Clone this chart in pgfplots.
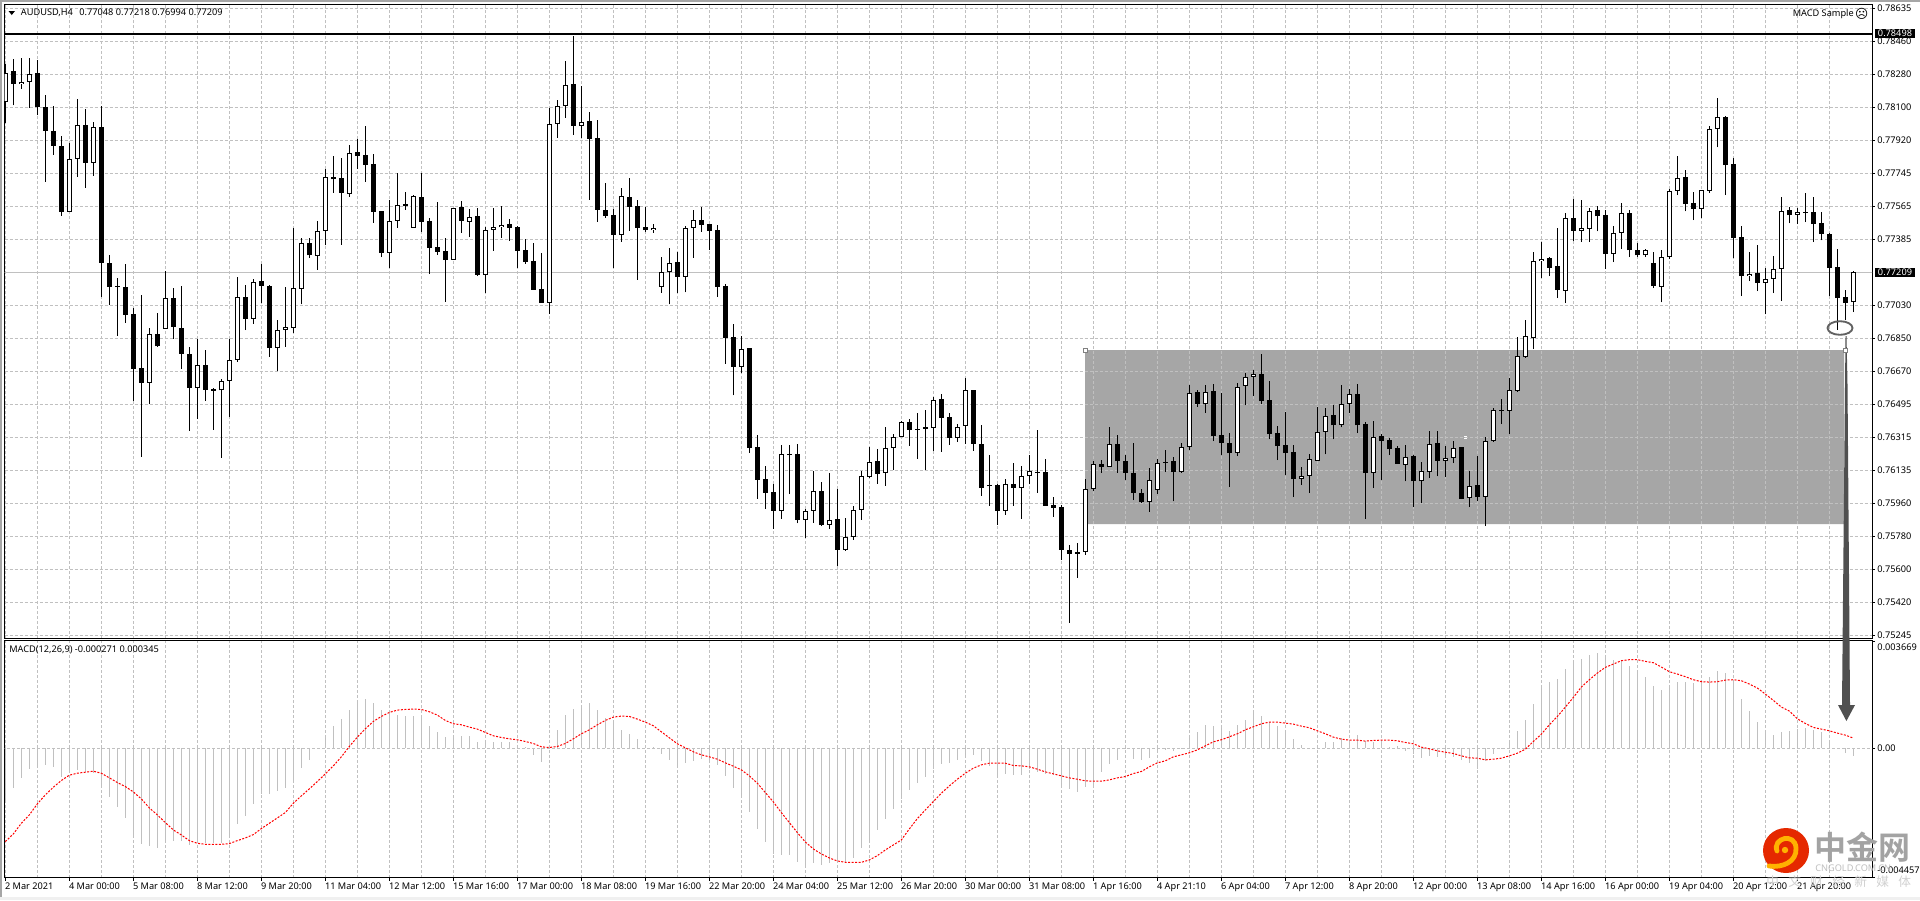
\documentclass[border=0pt]{standalone}
\usepackage{fontspec}
\setmainfont{Noto Sans}
\newfontfamily\cjk{Noto Sans CJK SC}[BoldFont={Noto Sans CJK SC Bold}]
\newfontfamily\dejavu{DejaVu Sans}
\usepackage{pgfplots}
\usepackage{pgfplotstable}
\pgfplotsset{compat=1.18}
\newcommand\lbl{\fontsize{6.9}{8}\selectfont}
\definecolor{gridc}{HTML}{C0C0C0}
\definecolor{boxc}{HTML}{A6A6A6}
\definecolor{annot}{HTML}{505050}
\pgfplotstableread{
x h o c l
0 78334 78129 78287 78017
2 78370 78229 78240 78201
3 78370 78240 78282 78100
8 77910 77537 77824 77537
9 78145 77822 78008 77725
11 78024 77801 77997 77730
18 76910 76613 76878 76496
20 77215 76905 77072 76905
24 76847 76584 76710 76415
27 76631 76570 76624 76206
28 76851 76624 76737 76427
29 77181 76735 77078 76725
31 77175 76957 77159 76930
34 76950 76800 76899 76674
35 77130 76899 76914 76806
36 77447 76910 77126 76881
37 77397 77119 77370 77036
39 77485 77298 77435 77222
40 77766 77433 77727 77355
43 77900 77633 77856 77617
48 77599 77314 77489 77231
49 77745 77487 77575 77449
51 77626 77449 77619 77449
56 77559 77276 77555 77276
58 77550 77483 77510 77399
60 77456 77197 77440 77098
61 77555 77440 77456 77325
62 77566 77456 77467 77395
68 78100 77045 78013 76984
69 78139 78013 78110 77936
70 78350 78110 78224 78044
72 78215 78002 78024 77936
77 77664 77411 77619 77373
81 77469 77438 77451 77422
82 77292 77130 77213 77098
83 77339 77211 77262 77036
85 77462 77184 77451 77101
86 77545 77449 77494 77287
92 76863 76698 76797 76662
97 76274 75919 76224 75876
100 75928 75870 75921 75773
101 76134 75919 76024 75854
103 76123 75843 75872 75822
105 75878 75708 75780 75703
106 75944 75780 75926 75762
107 76137 75924 76105 75870
108 76263 76103 76186 76096
110 76371 76125 76261 76054
111 76337 76261 76321 76139
112 76406 76319 76402 76316
116 76537 76368 76521 76243
119 76388 76314 76375 76292
120 76636 76379 76570 76281
123 76220 76051 76061 75946
125 76090 75919 76067 75897
127 76161 76043 76105 75876
128 76220 76105 76132 76063
134 75744 75687 75697 75557
135 76090 75699 76040 75681
136 76188 76038 76175 76025
138 76371 76157 76278 76157
143 76153 75968 76088 75914
144 76202 76033 76180 76009
147 76288 76128 76267 76124
148 76598 76265 76559 76247
150 76598 76498 76564 76449
154 76613 76233 76591 76215
155 76662 76595 76645 76490
156 76680 76644 76660 76539
162 76155 76092 76108 76058
163 76229 76108 76197 76015
164 76480 76189 76348 76189
165 76474 76346 76434 76225
167 76598 76384 76499 76371
168 76577 76498 76553 76447
171 76404 76124 76321 76042
175 76274 76168 76213 76079
177 76182 76079 76132 75960
178 76350 76130 76283 76096
180 76269 76189 76207 76103
181 76296 76206 76261 76177
183 76134 75989 76056 75939
185 76317 75995 76299 75836
186 76478 76296 76462 76294
188 76636 76460 76570 76334
189 76858 76568 76759 76562
190 76950 76750 76862 76746
191 77318 76854 77272 76793
192 77372 77272 77283 77177
195 77532 77108 77500 77042
197 77599 77433 77446 77372
198 77559 77444 77543 77372
201 77458 77309 77424 77264
202 77582 77422 77527 77334
205 77334 77301 77332 77291
207 77328 77130 77294 77047
208 77662 77291 77651 77280
209 77837 77649 77721 77626
212 77656 77552 77653 77501
213 77999 77649 77986 77637
214 78150 77986 78051 77885
218 77318 77190 77202 77161
220 77231 77152 77175 76982
221 77296 77173 77229 77096
222 77615 77227 77543 77053
224 77555 77521 77534 77469
231 77218 77048 77209 76994
}\upT
\pgfplotstableread{
x h o c l
1 78365 78296 78228 78112
4 78356 78284 78103 78058
5 78165 78105 77974 77698
6 78110 77975 77892 77844
7 77948 77894 77536 77514
10 78091 78008 77801 77665
12 78110 77997 77260 77076
13 77300 77260 77130 77033
14 77177 77134 77130 76865
15 77256 77132 76979 76935
16 77015 76982 76687 76514
17 77085 76689 76611 76211
19 76991 76878 76809 76806
21 77126 77072 76914 76849
22 77134 76910 76768 76685
23 76804 76770 76584 76352
25 76791 76710 76573 76514
26 76586 76577 76568 76357
30 77139 77078 76957 76896
32 77253 77161 77136 77044
33 77139 77137 76800 76752
38 77397 77370 77301 77287
41 77837 77723 77712 77638
42 77826 77718 77638 77357
44 77928 77858 77837 77768
45 77999 77842 77790 77698
46 77851 77793 77536 77476
47 77541 77539 77314 77291
50 77642 77577 77566 77548
52 77748 77615 77482 77426
53 77500 77485 77341 77200
54 77588 77345 77319 77303
55 77393 77323 77276 77049
57 77593 77561 77487 77422
59 77555 77512 77195 77188
63 77496 77469 77449 77379
64 77458 77453 77325 77233
65 77388 77328 77265 77254
66 77366 77269 77114 77114
67 77312 77117 77044 77044
71 78485 78226 78001 77952
73 78074 78026 77930 77602
74 78031 77934 77546 77482
75 77691 77548 77514 77503
76 77550 77518 77411 77231
78 77718 77615 77563 77433
79 77599 77566 77449 77168
80 77563 77453 77437 77427
84 77318 77264 77184 77098
87 77561 77494 77465 77427
88 77471 77469 77433 77330
89 77464 77437 77130 77076
90 77148 77134 76854 76714
91 76928 76858 76698 76544
93 76799 76799 76260 76233
94 76332 76263 76087 75984
95 76161 76090 76016 75930
96 76063 76020 75919 75822
98 76274 76224 76220 76009
99 76278 76229 75869 75851
102 76074 76025 75842 75836
104 76036 75874 75708 75622
109 76256 76188 76119 76065
113 76415 76398 76357 76270
114 76447 76364 76357 76200
115 76463 76370 76362 76139
117 76550 76523 76422 76238
118 76447 76424 76314 76276
121 76571 76571 76281 76243
122 76386 76283 76043 76000
124 76063 76061 75919 75843
126 76180 76067 76043 75946
129 76359 76128 76123 76016
130 76198 76128 75946 75946
131 75993 75950 75935 75887
132 75950 75939 75708 75654
133 75733 75710 75687 75314
137 76195 76175 76157 76124
139 76332 76278 76188 76124
140 76220 76191 76124 76085
141 76288 76126 76016 75977
142 76036 76018 75966 75962
145 76247 76186 76179 76128
146 76209 76191 76128 75971
149 76571 76561 76496 76481
151 76604 76566 76323 76296
152 76555 76328 76285 76220
153 76339 76288 76231 76047
157 76766 76658 76512 76496
158 76624 76517 76334 76306
159 76377 76339 76269 76193
160 76452 76274 76231 76112
161 76274 76236 76090 75993
166 76490 76436 76382 76306
169 76604 76550 76382 76339
170 76398 76388 76123 75874
172 76334 76323 76296 76088
173 76312 76301 76252 76220
174 76269 76258 76175 76173
176 76220 76215 76079 75939
179 76350 76285 76191 76106
182 76263 76263 75986 75982
184 76215 76058 75993 75971
187 76523 76463 76460 76388
193 77291 77285 77233 77188
194 77447 77242 77112 77069
196 77604 77501 77433 77377
199 77566 77545 77512 77431
200 77545 77518 77307 77226
203 77548 77528 77328 77291
204 77366 77328 77301 77291
206 77318 77258 77134 77123
210 77761 77723 77577 77539
211 77642 77582 77550 77491
215 78053 78047 77788 77626
216 77826 77793 77393 77285
217 77458 77399 77188 77080
219 77355 77204 77150 77107
223 77561 77545 77518 77474
225 77637 77534 77530 77480
226 77615 77534 77469 77372
227 77534 77474 77415 77382
228 77420 77415 77231 77080
229 77334 77236 77069 76899
230 77112 77074 77042 76950
}\dnT
\pgfplotstableread{
x m s
0 -1783 -3220
1 -1369 -2956
2 -1024 -2588
3 -713 -2300
4 -575 -1921
5 -575 -1610
6 -633 -1346
7 -978 -1116
8 -863 -932
9 -748 -863
10 -805 -828
11 -840 -794
12 -1323 -863
13 -1668 -1024
14 -2013 -1185
15 -2415 -1323
16 -2990 -1507
17 -3289 -1748
18 -3370 -2059
19 -3427 -2300
20 -3220 -2565
21 -3186 -2818
22 -3186 -2990
23 -3335 -3186
24 -3278 -3278
25 -3278 -3312
26 -3278 -3312
27 -3278 -3312
28 -3105 -3289
29 -2611 -3186
30 -2335 -3094
31 -1921 -2979
32 -1576 -2772
33 -1576 -2588
34 -1472 -2404
35 -1369 -2220
36 -1150 -1898
37 -667 -1645
38 -403 -1403
39 -35 -1150
40 403 -886
41 771 -610
42 1012 -299
43 1323 58
44 1668 380
45 1702 667
46 1553 920
47 1300 1093
48 1231 1231
49 1139 1311
50 1116 1334
51 1116 1346
52 1070 1334
53 771 1254
54 564 1139
55 368 955
56 426 840
57 426 805
58 426 725
59 196 656
60 173 541
61 196 426
62 196 368
63 196 322
64 81 288
65 35 230
66 -230 161
67 -472 46
68 35 23
69 633 58
70 1150 161
71 1357 322
72 1438 495
73 1553 633
74 1300 805
75 1035 955
76 920 1070
77 633 1104
78 495 1093
79 311 1001
80 35 897
81 35 771
82 -196 564
83 -403 357
84 -575 150
85 -495 12
86 -437 -127
87 -380 -230
88 -460 -299
89 -575 -380
90 -955 -506
91 -1369 -621
92 -1610 -748
93 -2197 -955
94 -2783 -1208
95 -3232 -1530
96 -3646 -1852
97 -3680 -2220
98 -3680 -2565
99 -3922 -2910
100 -4025 -3232
101 -3968 -3473
102 -4025 -3646
103 -3968 -3784
104 -3910 -3887
105 -3910 -3933
106 -3784 -3933
107 -3439 -3933
108 -3197 -3853
109 -2818 -3703
110 -2438 -3508
111 -2093 -3335
112 -1748 -3163
113 -1438 -2783
114 -1196 -2427
115 -989 -2128
116 -713 -1840
117 -541 -1553
118 -506 -1300
119 -403 -1070
120 -299 -863
121 -230 -690
122 -437 -575
123 -610 -518
124 -920 -518
125 -886 -518
126 -920 -598
127 -920 -610
128 -713 -644
129 -817 -725
130 -886 -817
131 -920 -886
132 -1334 -955
133 -1403 -1024
134 -1507 -1070
135 -1334 -1127
136 -1265 -1139
137 -817 -1139
138 -541 -1093
139 -403 -1024
140 -23 -978
141 -368 -874
142 -403 -805
143 -334 -644
144 -173 -506
145 -58 -437
146 -115 -299
147 -35 -230
148 426 -161
149 564 -58
150 805 81
151 771 219
152 702 288
153 598 391
154 805 495
155 978 633
156 1242 736
157 1116 840
158 909 897
159 771 897
160 633 863
161 322 828
162 115 759
163 5 702
164 35 598
165 196 495
166 219 380
167 334 311
168 288 276
169 449 276
170 242 242
171 196 265
172 219 276
173 35 276
174 58 253
175 -81 196
176 -196 150
177 -334 35
178 -265 -23
179 -288 -92
180 -265 -138
181 -288 -184
182 -403 -265
183 -495 -334
184 -702 -345
185 -426 -403
186 -196 -380
187 12 -345
188 265 -265
189 598 -173
190 955 -35
191 1530 230
192 2070 483
193 2289 805
194 2381 1093
195 2737 1415
196 2933 1748
197 3082 2105
198 3220 2358
199 3278 2588
200 3105 2783
201 3025 2898
202 3025 3013
203 2841 3048
204 2703 3048
205 2461 2990
206 2151 2944
207 2013 2795
208 2151 2634
209 2289 2553
210 2289 2461
211 2243 2358
212 2289 2289
213 2461 2277
214 2657 2289
215 2599 2346
216 2289 2358
217 1702 2323
218 1288 2208
219 909 2070
220 633 1863
221 460 1645
222 564 1415
223 598 1277
224 656 1012
225 679 851
226 633 713
227 564 656
228 288 598
229 -35 518
230 -150 449
231 -271 345
}\macdT
\pgfplotsset{
  pane/.style={scale only axis, width=1400.6pt, xmin=-0.104, xmax=233.33,
    scaled x ticks=false, scaled y ticks=false,
    anchor=north west, axis line style={black,line width=0.75pt},
    tick style={black,line width=0.75pt}, major tick length=2.25pt, minor tick length=0pt,
    tick align=outside, xtick pos=bottom, ytick pos=right, yticklabel pos=right,
    xtick={0,8,...,224}, minor xtick={4,12,...,232}, xmajorgrids, xminorgrids,
    grid style={gridc,line width=0.75pt,dash pattern=on 2.25pt off 1.5pt},
    minor grid style={gridc,line width=0.75pt,dash pattern=on 2.25pt off 1.5pt},
    tick label style={font=\lbl,inner sep=0pt},
    yticklabel style={anchor=west,xshift=1.5pt},
  },
  stick/.style n args={2}{forget plot, draw=none, mark=none,
    /pgfplots/error bars/y dir=plus, /pgfplots/error bars/y explicit,
    /pgfplots/error bars/error mark=none,
    /pgfplots/error bars/error bar style={draw=#1,solid,line width=#2}},
}
\begin{document}
\begin{tikzpicture}
\begin{scope}[x=0.75pt,y=-0.75pt]
\useasboundingbox (0,0) rectangle (1920,900);
\fill[white] (0,0) rectangle (1920,900);
\fill[gray!70] (0,0) rectangle (1920,1.5);
\fill[gray!70] (0,0) rectangle (1.7,897);
\fill[black!6] (0,896.5) rectangle (1920,900);
\end{scope}
% shaded range, under the grid
\begin{axis}[pane, at={(3.375pt,-3.375pt)}, height=475.5pt, ymin=75229, ymax=78657, hide axis]
\addplot[fill=boxc,draw=none] coordinates {(134.96,76788) (229.83,76788) (229.83,75847) (134.96,75847) (134.96,76788)};
\end{axis}
% price pane
\begin{axis}[pane, at={(3.375pt,-3.375pt)}, height=475.5pt, ymin=75229, ymax=78657,
  xticklabels={}, x tick style={draw=none}, minor x tick style={draw=none},
  ymajorgrids,
  ytick={78635,78457,78278,78100,77921,77743,77565,77386,77029,76851,76673,76494,76316,76137,75959,75781,75602,75424,75245},
  yticklabels={0.78635,0.78460,0.78280,0.78100,0.77920,0.77745,0.77565,0.77385,0.77030,0.76850,0.76670,0.76495,0.76315,0.76135,0.75960,0.75780,0.75600,0.75420,0.75245}]
\addplot[gridc,line width=0.75pt] coordinates {(-1,77209) (240,77209)};
\addplot[black,line width=1.3pt] coordinates {(-1,78498) (240,78498)};
\addplot[stick={black}{0.75pt}] table[x=x,y=l,y error plus expr={\thisrow{h}-\thisrow{l}},y error minus expr=0] {\upT};
\addplot[stick={black}{0.75pt}] table[x=x,y=l,y error plus expr={\thisrow{h}-\thisrow{l}},y error minus expr=0] {\dnT};
\addplot[stick={black}{3.75pt}] table[x=x,y=c,y error plus expr={\thisrow{o}-\thisrow{c}},y error minus expr=0] {\dnT};
\addplot[stick={black}{3.75pt}] table[x=x,y=o,y error plus expr={\thisrow{c}-\thisrow{o}},y error minus expr=0] {\upT};
\addplot[stick={white}{2.25pt}] table[x=x,y expr={\thisrow{o}+5.4},y error plus expr={max(\thisrow{c}-\thisrow{o}-10.8,0)},y error minus expr=0] {\upT};
\end{axis}
% MACD pane
\begin{axis}[pane, at={(3.375pt,-480.375pt)}, height=177.75pt, ymin=-4457, ymax=3709,
  minor x tick style={draw=none},
  xticklabels={2 Mar 2021,4 Mar 00:00,5 Mar 08:00,8 Mar 12:00,9 Mar 20:00,11 Mar 04:00,12 Mar 12:00,15 Mar 16:00,17 Mar 00:00,18 Mar 08:00,19 Mar 16:00,22 Mar 20:00,24 Mar 04:00,25 Mar 12:00,26 Mar 20:00,30 Mar 00:00,31 Mar 08:00,1 Apr 16:00,4 Apr 21:10,6 Apr 04:00,7 Apr 12:00,8 Apr 20:00,12 Apr 00:00,13 Apr 08:00,14 Apr 16:00,16 Apr 00:00,19 Apr 04:00,20 Apr 12:00,21 Apr 20:00},
  xticklabel style={anchor=north west,xshift=-0.4pt,yshift=-1.2pt},
  ytick={-4457,0,3669}, yticklabels={,0.00,}]
\addplot[gridc,line width=0.75pt,dash pattern=on 2.25pt off 1.5pt] coordinates {(-1,0) (240,0)};
\addplot[ycomb,gridc,line width=1.05pt,mark=none] table[x=x,y=m] {\macdT};
\addplot[red,line width=0.75pt,dash pattern=on 1.5pt off 1.1pt,mark=none] table[x=x,y=s] {\macdT};
\end{axis}
% annotations and texts
\begin{scope}[x=0.75pt,y=-0.75pt]
\fill[black] (8.5,11) -- (15,11) -- (11.75,15) -- cycle;
\node[anchor=west,inner sep=0,font=\lbl] at (20.7,12.7) {AUDUSD,H4\hspace{3pt} 0.77048 0.77218 0.76994 0.77209};
\node[anchor=east,inner sep=0,font=\lbl] at (1854,13.7) {MACD Sample};
\node[inner sep=0,font=\dejavu\fontsize{9.5}{10}\selectfont] at (1861.7,13.7) {☹};
\node[anchor=west,inner sep=0,font=\lbl] at (9,650) {MACD(12,26,9) -0.000271 0.000345};
\foreach \yy/\tt in {33.7/0.78498,272.3/0.77209}{
  \fill[black] (1875,\yy-4.3) rectangle (1915,\yy+4.3);
  \node[anchor=west,inner sep=0,font=\lbl,text=white] at (1877.7,\yy) {\tt};
}
\node[anchor=west,inner sep=0,font=\lbl] at (1877.2,647) {0.003669};
\node[anchor=west,inner sep=0,font=\lbl] at (1877.2,870) {-0.004457};
% annotation shapes
\draw[annot!90,line width=1.4pt] (1840,328) ellipse (12.5 and 6.8);
\fill[annot] (1845.5,336) -- (1846.5,336) -- (1847.5,385) -- (1850,705) -- (1855,705) -- (1846.4,721) -- (1838,705) -- (1842,705) -- (1845,385) -- cycle;
\foreach \xx in {1085.3,1845.5}{\draw[gray,fill=white,line width=0.5pt] (\xx-2,348.3) rectangle (\xx+2,352.3);}
\fill[white] (1463.5,436) rectangle (1466.5,436.8);
\fill[white] (1463.5,438) rectangle (1466.5,438.8);
% watermark
\fill[red!65!orange!90!black] (1786,850.5) ellipse (23 and 22.5);
\draw[orange!60!yellow,line width=3.6pt,line cap=round] (1777,851) .. controls (1772,838) and (1795,832) .. (1796,848) .. controls (1797,862) and (1782,868) .. (1769,866);
\fill[orange!60!yellow] (1785,850) circle (3.2);
\node[anchor=west,inner sep=0,text=black!36,font=\cjk\bfseries\fontsize{24}{26}\selectfont] at (1814,847) {中金网};
\node[anchor=west,inner sep=0,text=black!25,font=\lbl] at (1815,868) {CNGOLD.COM.CN};
\node[anchor=west,inner sep=0,text=black!18,font=\cjk\fontsize{9.5}{11}\selectfont] at (1766,882) {中\hspace{7pt}文\hspace{7pt}财\hspace{7pt}经\hspace{7pt}新\hspace{7pt}媒\hspace{7pt}体};
\end{scope}
\end{tikzpicture}
\end{document}
